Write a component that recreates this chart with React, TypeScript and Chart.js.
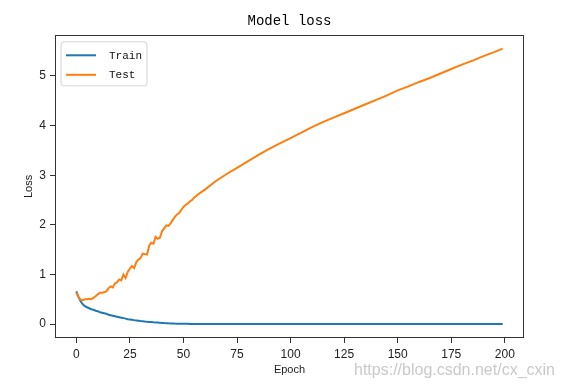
import React, { useEffect, useRef } from "react";
import { Chart, registerables } from "chart.js";

Chart.register(...registerables);

const epochs = [
  0, 1, 2, 3, 4, 5, 6, 7, 8, 9, 10, 11, 12, 13, 14, 15, 16, 17, 18, 19, 20,
  21, 22, 23, 24, 25, 26, 27, 28, 29, 30, 31, 32, 33, 34, 35, 36, 37, 38, 39, 40,
  41, 42, 43, 44, 45, 46, 47, 48, 49, 50, 51, 52, 53, 54, 55, 56, 57, 58, 59, 60,
  65, 70, 75, 80, 85, 90, 95, 100, 105, 110, 115, 120, 125, 130, 135, 140, 145,
  150, 155, 160, 165, 170, 175, 180, 185, 190, 195, 199,
];

const trainLoss = [
  0.66, 0.55, 0.46, 0.4, 0.36, 0.34, 0.32, 0.3, 0.29, 0.27, 0.26,
  0.24, 0.23, 0.22, 0.21, 0.19, 0.18, 0.17, 0.16, 0.15, 0.14,
  0.13, 0.12, 0.11, 0.1, 0.095, 0.088, 0.08, 0.074, 0.068, 0.062,
  0.057, 0.052, 0.048, 0.044, 0.04, 0.036, 0.033, 0.03, 0.027, 0.024,
  0.021, 0.019, 0.016, 0.014, 0.012, 0.01, 0.009, 0.008, 0.007, 0.006,
  0.005, 0.005, 0.004, 0.004, 0.004, 0.003, 0.003, 0.003, 0.003, 0.002,
  0.002, 0.002, 0.002, 0.001, 0.001, 0.001, 0.001, 0.001, 0.001, 0.001, 0.001, 0.001,
  0.001, 0.001, 0.001, 0.001, 0.001, 0.001, 0.001, 0.001, 0.001, 0.001, 0.001, 0.001,
  0.001, 0.001, 0.001, 0.001,
];

const testLoss = [
  0.63, 0.55, 0.49, 0.48, 0.5, 0.5, 0.51, 0.5, 0.53, 0.56, 0.6,
  0.63, 0.63, 0.64, 0.66, 0.72, 0.76, 0.74, 0.82, 0.84, 0.9,
  0.88, 1.0, 0.93, 1.05, 1.12, 1.17, 1.13, 1.25, 1.3, 1.33,
  1.42, 1.41, 1.4, 1.58, 1.64, 1.62, 1.76, 1.72, 1.74, 1.87,
  1.93, 1.99, 1.98, 2.03, 2.1, 2.16, 2.21, 2.24, 2.3, 2.36,
  2.4, 2.43, 2.47, 2.5, 2.55, 2.58, 2.62, 2.65, 2.68, 2.71,
  2.88, 3.02, 3.15, 3.28, 3.41, 3.53, 3.64, 3.75, 3.86, 3.97, 4.07, 4.16,
  4.25, 4.34, 4.43, 4.52, 4.61, 4.71, 4.79, 4.88, 4.96, 5.05, 5.14, 5.23,
  5.31, 5.4, 5.48, 5.55,
];

const xTickValues = [0, 25, 50, 75, 100, 125, 150, 175, 200];
const yTickValues = [0, 1, 2, 3, 4, 5];

const chartTitle = "Model loss";
const xLabel = "Epoch";
const yLabel = "Loss";
const seriesNames = ["Train", "Test"];
const seriesColors = ["#1f77b4", "#ff7f0e"];
const watermark = "https://blog.csdn.net/cx_cxin";

const MONO = "'Liberation Mono', 'DejaVu Sans Mono', monospace";
const SANS = "'Liberation Sans', Arial, sans-serif";

const framePlugin = {
  id: "frame",
  afterDatasetsDraw(chart: any) {
    const { ctx, chartArea } = chart;
    ctx.save();
    ctx.strokeStyle = "#333";
    ctx.lineWidth = 1;
    ctx.strokeRect(
      Math.round(chartArea.left) + 0.5,
      Math.round(chartArea.top) + 0.5,
      Math.round(chartArea.right - chartArea.left) - 1,
      Math.round(chartArea.bottom - chartArea.top) - 1
    );
    ctx.restore();
  },
};

const legendPlugin = {
  id: "mplLegend",
  afterDraw(chart: any) {
    const { ctx, chartArea } = chart;
    const x0 = chartArea.left + 6;
    const y0 = chartArea.top + 7;
    const w = 86;
    const h = 44;
    ctx.save();
    ctx.beginPath();
    const r = 3;
    ctx.moveTo(x0 + r, y0);
    ctx.lineTo(x0 + w - r, y0);
    ctx.quadraticCurveTo(x0 + w, y0, x0 + w, y0 + r);
    ctx.lineTo(x0 + w, y0 + h - r);
    ctx.quadraticCurveTo(x0 + w, y0 + h, x0 + w - r, y0 + h);
    ctx.lineTo(x0 + r, y0 + h);
    ctx.quadraticCurveTo(x0, y0 + h, x0, y0 + h - r);
    ctx.lineTo(x0, y0 + r);
    ctx.quadraticCurveTo(x0, y0, x0 + r, y0);
    ctx.closePath();
    ctx.fillStyle = "rgba(255,255,255,0.85)";
    ctx.fill();
    ctx.strokeStyle = "#d4d4d4";
    ctx.lineWidth = 1;
    ctx.stroke();
    chart.data.datasets.forEach((ds: any, i: number) => {
      const ly = y0 + 13.5 + i * 19.5;
      ctx.beginPath();
      ctx.strokeStyle = ds.borderColor;
      ctx.lineWidth = 2;
      ctx.moveTo(x0 + 5, ly);
      ctx.lineTo(x0 + 35, ly);
      ctx.stroke();
      ctx.fillStyle = "#111";
      ctx.font = `11px ${MONO}`;
      ctx.textBaseline = "middle";
      ctx.textAlign = "left";
      ctx.fillText(ds.label, x0 + 48, ly + 0.5);
    });
    ctx.restore();
  },
};

const watermarkPlugin = {
  id: "watermark",
  afterDraw(chart: any) {
    const { ctx } = chart;
    ctx.save();
    ctx.font = `16px ${SANS}`;
    ctx.fillStyle = "rgba(195,195,195,0.9)";
    ctx.textAlign = "left";
    ctx.textBaseline = "alphabetic";
    ctx.fillText(watermark, 354, 375);
    ctx.restore();
  },
};

export default function App() {
  const canvasRef = useRef<HTMLCanvasElement | null>(null);

  useEffect(() => {
    if (!canvasRef.current) return;
    const tickFont = { family: SANS, size: 12 };
    const chart = new Chart(canvasRef.current, {
      type: "line",
      data: {
        datasets: [
          {
            label: seriesNames[0],
            data: epochs.map((e, i) => ({ x: e, y: trainLoss[i] })),
            borderColor: seriesColors[0],
            backgroundColor: seriesColors[0],
            borderWidth: 2,
            pointRadius: 0,
            tension: 0,
            fill: false,
            order: 1,
          },
          {
            label: seriesNames[1],
            data: epochs.map((e, i) => ({ x: e, y: testLoss[i] })),
            borderColor: seriesColors[1],
            backgroundColor: seriesColors[1],
            borderWidth: 2,
            pointRadius: 0,
            tension: 0,
            fill: false,
            order: 0,
          },
        ],
      },
      options: {
        responsive: false,
        animation: false,
        events: [],
        layout: { padding: { left: 0, right: 37, top: 0, bottom: 0 } },
        plugins: {
          legend: { display: false },
          tooltip: { enabled: false },
          title: {
            display: true,
            text: chartTitle,
            fullSize: false,
            color: "#000",
            font: { family: MONO, size: 14, weight: "normal" },
            padding: { top: 13, bottom: 5 },
          },
        },
        scales: {
          x: {
            type: "linear",
            min: -9.95,
            max: 208.95,
            afterBuildTicks: (s: any) => {
              s.ticks = xTickValues.map((v) => ({ value: v }));
            },
            afterFit: (s: any) => {
              s.height = 50;
            },
            ticks: {
              color: "#222",
              font: tickFont,
              padding: 4,
              maxRotation: 0,
              autoSkip: false,
              callback: (v: any) => String(v),
            },
            grid: {
              display: true,
              drawOnChartArea: false,
              drawTicks: true,
              tickLength: 5,
              tickWidth: 1,
              tickColor: "#333",
            },
            border: { display: false },
            title: {
              display: true,
              text: xLabel,
              color: "#222",
              font: { family: SANS, size: 11 },
              padding: { top: 0, bottom: 11 },
            },
          },
          y: {
            type: "linear",
            min: -0.28,
            max: 5.83,
            afterBuildTicks: (s: any) => {
              s.ticks = yTickValues.map((v) => ({ value: v }));
            },
            afterFit: (s: any) => {
              s.width = 55;
            },
            ticks: {
              color: "#222",
              font: tickFont,
              padding: 4,
              autoSkip: false,
              callback: (v: any) => String(v),
            },
            grid: {
              display: true,
              drawOnChartArea: false,
              drawTicks: true,
              tickLength: 5,
              tickWidth: 1,
              tickColor: "#333",
            },
            border: { display: false },
            title: {
              display: true,
              text: yLabel,
              color: "#222",
              font: { family: SANS, size: 11 },
              padding: { top: 22, bottom: 0 },
            },
          },
        },
      },
      plugins: [framePlugin, legendPlugin, watermarkPlugin],
    } as any);
    return () => chart.destroy();
  }, []);

  return (
    <div
      style={{
        position: "fixed",
        left: 0,
        top: 0,
        width: 561,
        height: 388,
        background: "#fff",
      }}
    >
      <canvas ref={canvasRef} width={561} height={388} />
    </div>
  );
}
